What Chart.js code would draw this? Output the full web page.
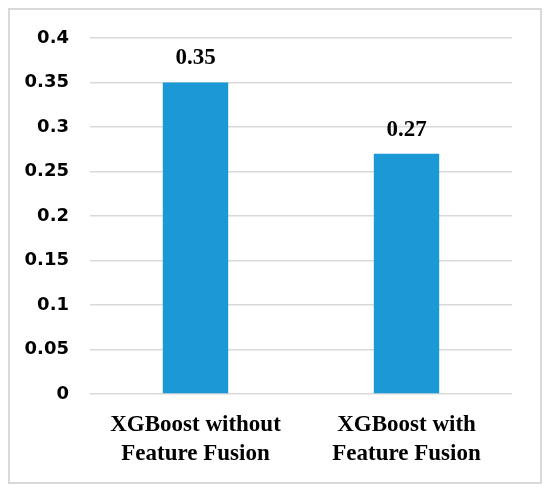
<!DOCTYPE html>
<html>
<head>
<meta charset="utf-8">
<script src="https://cdn.jsdelivr.net/npm/chart.js@4"></script>
<style>
  html,body{margin:0;padding:0;background:#fff;}
  #wrap{position:relative;width:550px;height:490px;}
  #frame{position:absolute;left:8px;top:8px;width:530px;height:472px;border:2px solid #d9d9d9;pointer-events:none;}
</style>
</head>
<body>
<div id="wrap">
  <canvas id="c" width="550" height="490"></canvas>
  <div id="frame"></div>
</div>
<script>
const categories = [['XGBoost without','Feature Fusion'], ['XGBoost with','Feature Fusion']];
const values = [0.35, 0.27];
const yTicks = [0, 0.05, 0.1, 0.15, 0.2, 0.25, 0.3, 0.35, 0.4];

// value labels above the bars
const barLabels = {
  id:'barLabels',
  afterDatasetsDraw(chart){
    const ctx = chart.ctx;
    const meta = chart.getDatasetMeta(0);
    ctx.save();
    ctx.font = 'bold 23px "Liberation Serif", serif';
    ctx.fillStyle = '#000';
    ctx.textAlign = 'center';
    ctx.textBaseline = 'middle';
    meta.data.forEach((bar,i)=>{
      ctx.fillText(values[i].toFixed(2), bar.x, bar.y - 24);
    });
    ctx.restore();
  }
};

new Chart(document.getElementById('c'),{
  type:'bar',
  data:{ labels:categories, datasets:[{ data:values, backgroundColor:'#1a99d6', categoryPercentage:0.62, barPercentage:0.5 }] },
  options:{
    responsive:false,
    animation:false,
    layout:{ padding:{ left:0, right:38, top:38, bottom:0 } },
    plugins:{ legend:{display:false}, tooltip:{enabled:false} },
    scales:{
      x:{
        grid:{ display:false, drawTicks:false },
        border:{ display:false },
        ticks:{ color:'#000', padding:17, maxRotation:0, font:{ family:'"Liberation Serif", serif', weight:'bold', size:23, lineHeight:'29px' } },
        afterFit(s){ s.height = 96; }
      },
      y:{
        min:0, max:0.4,
        afterBuildTicks(s){ s.ticks = yTicks.map(v=>({value:v})); },
        grid:{ color:'#d9d9d9', lineWidth:1.5, drawTicks:false },
        border:{ display:false },
        ticks:{ color:'#000', padding:21, font:{ family:'"DejaVu Sans", sans-serif', weight:'bold', size:18 }, callback:v=>String(+v.toFixed(2)) },
        afterFit(s){ s.width = 90; }
      }
    }
  },
  plugins:[barLabels]
});
</script>
</body>
</html>
